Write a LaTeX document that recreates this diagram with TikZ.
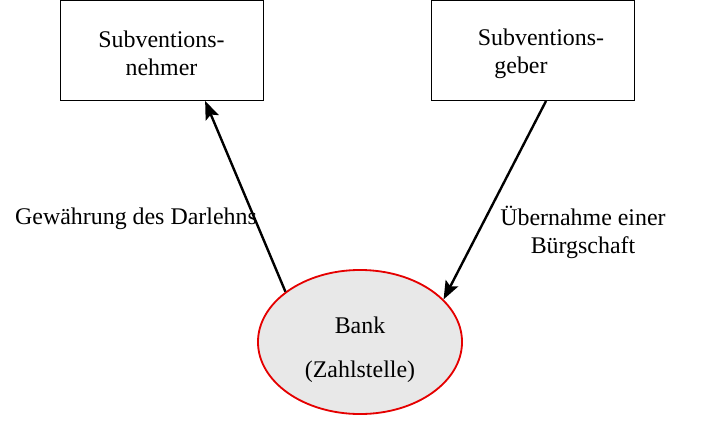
\documentclass[tikz,border=0pt]{standalone}
\usepackage{fontspec}
\setmainfont{Liberation Serif}
\usetikzlibrary{arrows.meta,positioning,calc,shapes.geometric}

\begin{document}
\begin{tikzpicture}[x=0.025cm, y=-0.025cm,
    party/.style={draw, line width=0.6pt, minimum width=5.075cm, minimum height=2.5cm, align=center, text height=36pt, font=\fontsize{17}{20}\selectfont},
    label/.style={align=center, font=\fontsize{17}{20}\selectfont},
    flow/.style={-{Stealth[length=13pt, width=10pt, inset=2.5pt]}, line width=1.7pt}]
    \useasboundingbox (0,0) rectangle (720,422);

    \node[party] (nehmer) at (161.5, 50.5) {Subventions-\\nehmer};
    \node[party] (geber) at (533, 50.5) {\hspace*{0.4cm}Subventions-\\geber\hspace*{0.6cm}};

    \node[ellipse, draw=red!90!black, line width=1.3pt, fill=black!9, minimum width=5.1cm, minimum height=3.6cm, inner sep=0pt, align=center, text height=54pt, font=\fontsize{17}{31}\selectfont] (bank) at (360, 342) {Bank\\(Zahlstelle)};

    \node[label] (gewaehrung) at (136, 219) {Gewährung des Darlehns};
    \node[label] (uebernahme) at (583, 232) {Übernahme einer\\Bürgschaft};

    \draw[flow] (bank.146.7) -- ($(nehmer.south west)!0.714!(nehmer.south east)$);
    \draw[flow] ($(geber.south west)!0.564!(geber.south east)$) -- (bank.27.6);
\end{tikzpicture}
\end{document}
